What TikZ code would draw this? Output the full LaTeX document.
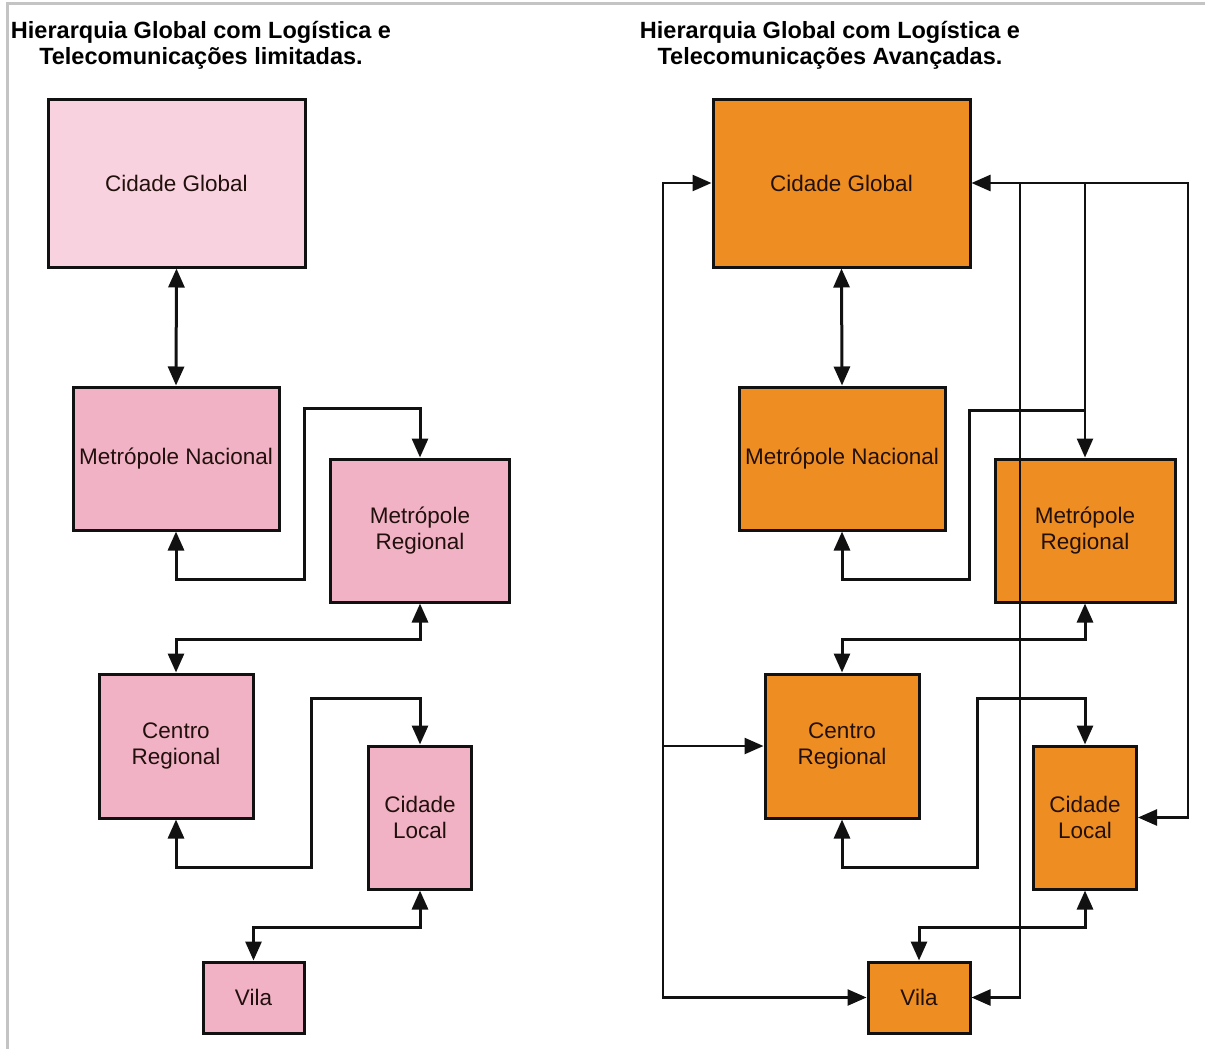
\documentclass[tikz,border=0pt]{standalone}
\usepackage{fontspec}
\setmainfont{Liberation Sans}
\usetikzlibrary{arrows.meta}

\definecolor{framegray}{HTML}{C4C4C4}
\definecolor{pinklight}{HTML}{F8D3DF}
\definecolor{pinkmid}{HTML}{F1B2C6}
\definecolor{orangebox}{HTML}{EE8E22}
\definecolor{boxtext}{HTML}{22100C}
\definecolor{edge}{HTML}{111111}

\tikzset{
  city/.style={draw=edge, line width=3pt, inner sep=0pt, align=center,
    text=boxtext, font=\fontsize{22.5}{26}\selectfont},
  link/.style={draw=edge, line width=3pt,
    arrows={-}, >={Triangle[length=19pt,width=16pt]}},
  longlink/.style={link, line width=2.5pt},
  heading/.style={align=center, font=\bfseries\fontsize{23.5}{26}\selectfont}
}

\begin{document}
\begin{tikzpicture}[x=1pt, y=-1pt]
  % page and frame
  \useasboundingbox (0,0) rectangle (1205,1049);
  \draw[framegray, line width=3pt] (7,1049) -- (7,4) -- (1205,4);

  % headings
  \node[heading] (titleL) at (201,45) {Hierarquia Global com Logística e\\Telecomunicações limitadas.};
  \node[heading] (titleR) at (830,45) {Hierarquia Global com Logística e\\Telecomunicações Avançadas.};

  % ---------- limited logistics ----------
  \node[city, fill=pinklight, minimum width=257pt, minimum height=168pt] (cgL) at (176.5,183) {Cidade Global};
  \node[city, fill=pinkmid, minimum width=206pt, minimum height=143pt] (mnL) at (176,458.5) {Metrópole Nacional};
  \node[city, fill=pinkmid, minimum width=179pt, minimum height=143pt] (mrL) at (420,530.5) {Metrópole\\Regional};
  \node[city, fill=pinkmid, minimum width=154pt, minimum height=144pt] (crL) at (176,746) {Centro\\Regional};
  \node[city, fill=pinkmid, minimum width=103pt, minimum height=143pt] (clL) at (420,817.5) {Cidade\\Local};
  \node[city, fill=pinkmid, minimum width=101pt, minimum height=71pt] (viL) at (253.5,997.5) {Vila};

  \draw[link, <->] (cgL.south) -- (mnL.north);
  \draw[link, <->] (mnL.south) -- ++(0,48) -| (304,408) -| (mrL.north);
  \draw[link, <->] (mrL.south) -- ++(0,36) -| (crL.north);
  \draw[link, <->] (crL.south) -- ++(0,48) -| (311,698) -| (clL.north);
  \draw[link, <->] (clL.south) -- ++(0,37) -| (viL.north);

  % ---------- advanced logistics ----------
  \node[city, fill=orangebox, minimum width=257pt, minimum height=168pt] (cgR) at (841.5,183) {Cidade Global};
  \node[city, fill=orangebox, minimum width=206pt, minimum height=143pt] (mnR) at (842,458.5) {Metrópole Nacional};
  \node[city, fill=orangebox, minimum width=180pt, minimum height=143pt] (mrR) at (1085,530.5) {Metrópole\\Regional};
  \node[city, fill=orangebox, minimum width=154pt, minimum height=144pt] (crR) at (842,746) {Centro\\Regional};
  \node[city, fill=orangebox, minimum width=103pt, minimum height=143pt] (clR) at (1085,817.5) {Cidade\\Local};
  \node[city, fill=orangebox, minimum width=102pt, minimum height=71pt] (viR) at (919,997.5) {Vila};

  % junctions of the shared trunk lines
  \coordinate (trunkW) at (663,183);
  \coordinate (trunkWmid) at (663,746);
  \coordinate (dropVila) at (1020,183);
  \coordinate (dropMR) at (1085,183);
  \coordinate (joinMR) at (1085,410);
  \coordinate (trunkE) at (1188,183);

  \draw[link, <->] (cgR.south) -- (mnR.north);
  \draw[link, <-] (mnR.south) -- ++(0,48) -| (969,410) -- (joinMR);
  \draw[link, <->] (mrR.south) -- ++(0,36) -| (crR.north);
  \draw[link, <->] (crR.south) -- ++(0,48) -| (977,698) -| (clR.north);
  \draw[link, <->] (clR.south) -- ++(0,37) -| (viR.north);

  % long-distance links
  \draw[longlink, <->] (cgR.west) -- (trunkW) |- (viR.west);
  \draw[longlink, ->] (trunkWmid) -- (crR.west);
  \draw[longlink, <->] (cgR.east) -- (trunkE) |- (clR.east);
  \draw[longlink, ->] (dropMR) -- (mrR.north);
  \draw[longlink, ->] (dropVila) |- (viR.east);
\end{tikzpicture}
\end{document}
